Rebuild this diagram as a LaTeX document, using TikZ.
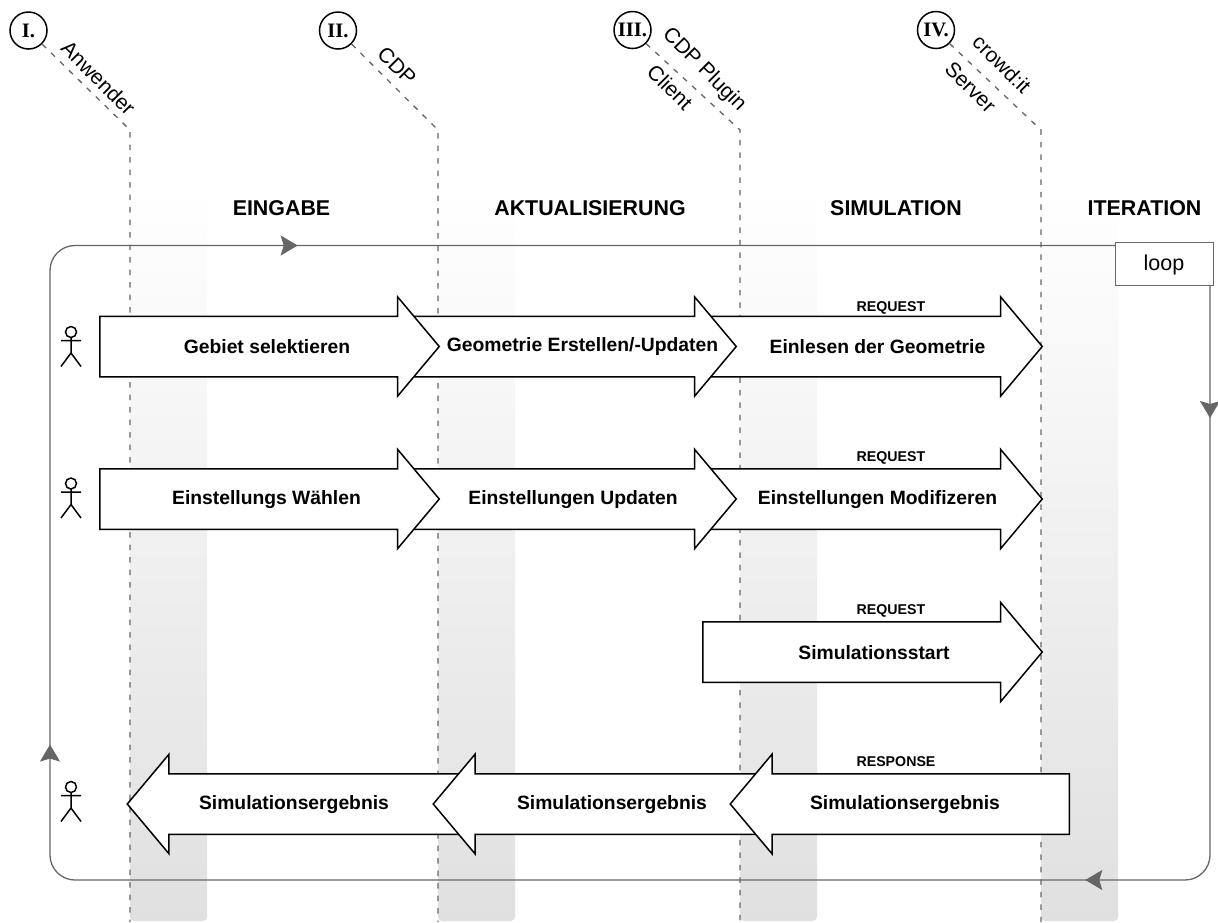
\documentclass[tikz,border=0pt]{standalone}
\usepackage{fontspec}
\setmainfont{Liberation Sans}
\newfontfamily\numfont{Liberation Serif}
\usepackage{tikz}
\usetikzlibrary{shapes.arrows}
\usetikzlibrary{arrows.meta}
\usetikzlibrary{decorations.markings}
\definecolor{loopgray}{HTML}{666666}
\definecolor{bandgray}{HTML}{E0E0E0}

\begin{document}
\begin{tikzpicture}[x=1pt,y=-1pt]
% Diagram style
\tikzset{
    band/.style={top color=white,bottom color=bandgray,draw=none,rounded corners=4pt},
    lifeline/.style={dashed,dash pattern=on 5.5pt off 7pt,draw=loopgray,line width=1.3pt},
    loopline/.style={draw=loopgray,line width=1.3pt,rounded corners=25pt},
    flow/.style={shape=single arrow,draw=black,fill=white,line width=1.5pt,inner xsep=0pt,inner ysep=29.5pt,
        minimum width=98pt,single arrow head extend=19.5pt,single arrow tip angle=100},
    rflow/.style={flow,anchor=tail},
    lflow/.style={flow,anchor=tail,shape border rotate=180},
    flowtext/.style={font=\fontsize{19.3}{22}\selectfont\bfseries},
    msgtext/.style={font=\fontsize{14.2}{16}\selectfont\bfseries,anchor=west},
    headtext/.style={font=\fontsize{21.4}{24}\selectfont\bfseries},
    roletext/.style={font=\fontsize{21}{24}\selectfont,rotate=-45},
    partno/.style={circle,draw=black,line width=1.5pt,minimum size=37pt,inner sep=0pt,
        font=\fontsize{20.5}{22}\selectfont\numfont\bfseries},
    actor/.pic={
        \draw[line width=1.5pt] (0,0) circle (5.5pt);
        \draw[line width=1.5pt] (0,5.5) -- (0,21) (-10,8.5) -- (10,8.5) (-10,34.5) -- (0,21) -- (10,34.5);
    },
    looptip/.style={decorate,decoration={markings,
        mark=at position 133pt with {\arrow{Stealth[length=17pt,width=20pt,inset=3pt]}},
        mark=at position 709pt with {\arrow{Stealth[length=17pt,width=20pt,inset=3pt]}},
        mark=at position 1869pt with {\arrow{Stealth[length=17pt,width=20pt,inset=3pt]}},
        mark=at position 2605pt with {\arrow{Stealth[length=17pt,width=20pt,inset=3pt]}}}}
}
\useasboundingbox (0,0) rectangle (1218,922);
% Bands
\shade[band] (130,190) rectangle (207,921);
\shade[band] (438,190) rectangle (515,921);
\shade[band] (740,190) rectangle (817,921);
\shade[band] (1041,190) rectangle (1118,921);
% Participants
\draw (28.5,30.5) node[partno] (Parta){I.};
\draw (338,30.5) node[partno] (Partb){II.};
\draw (632.5,30) node[partno] (Partc){III.};
\draw (936,30) node[partno] (Partd){IV.};
\draw (98.5,78) node[roletext] (Rolea){Anwender};
\draw (397,66) node[roletext] (Roleb){CDP};
\draw (704,70) node[roletext] (Rolec){CDP Plugin};
\draw (670,87) node[roletext] (Rolecc){Client};
\draw (1002,64) node[roletext] (Roled){crowd:it};
\draw (970.5,87) node[roletext] (Roledd){Server};
% Lifelines
\draw[lifeline] (Parta.south east) -- (130,130) -- (130,922);
\draw[lifeline] (Partb.south east) -- (438,130) -- (438,922);
\draw[lifeline] (Partc.south east) -- (740,130) -- (740,922);
\draw[lifeline] (Partd.south east) -- (1041,130) -- (1041,922);
% Phases
\draw (281.5,208) node[headtext] (Phasea){EINGABE};
\draw (590,208) node[headtext] (Phaseb){AKTUALISIERUNG};
\draw (896,208) node[headtext] (Phasec){SIMULATION};
\draw (1144.5,208) node[headtext] (Phased){ITERATION};
% Loop
\coordinate (Loopout) at (1210,285);
\coordinate (Loopin) at (1115,245.5);
\draw[loopline,postaction={looptip}]
    (Loopout) -- (1210,880) -- (50,880) -- (50,245.5) -- (Loopin);
\draw (1164,263.5) node[draw=loopgray,fill=white,line width=1pt,minimum width=98pt,minimum height=43pt,
    inner sep=0pt,font=\fontsize{21.5}{24}\selectfont,text height=14pt,text depth=1pt] (Loopbox){loop};
% Actors
\pic at (71,332) {actor};
\pic at (71,483.5) {actor};
\pic at (71,787) {actor};
% Select area row
\draw (702,346.5) node[rflow,minimum height=339.5pt] (Reada){};
\draw (396,346.5) node[rflow,minimum height=339.5pt] (Reqa){};
\draw (99,346.5) node[rflow,minimum height=339.5pt] (Usera){};
\draw (267,347) node[flowtext] (Texta){Gebiet selektieren};
\draw (582.5,347) node[flowtext] (Textb){Geometrie Erstellen/-Updaten};
\draw (877.5,347) node[flowtext] (Textc){Einlesen der Geometrie};
\draw (853,307.5) node[msgtext] (Msga){REQUEST};
% Settings row
\draw (702,499) node[rflow,minimum height=339.5pt] (Readb){};
\draw (396,499) node[rflow,minimum height=339.5pt] (Reqb){};
\draw (99,499) node[rflow,minimum height=339.5pt] (Userb){};
\draw (266.5,499.5) node[flowtext] (Textd){Einstellungs Wählen};
\draw (573,499.5) node[flowtext] (Texte){Einstellungen Updaten};
\draw (877.5,499.5) node[flowtext] (Textf){Einstellungen Modifizeren};
\draw (853,457.5) node[msgtext] (Msgb){REQUEST};
% Start row
\draw (702,652) node[rflow,minimum height=339.5pt] (Readc){};
\draw (874,653) node[flowtext] (Textg){Simulationsstart};
\draw (853,610.5) node[msgtext] (Msgc){REQUEST};
% Result row
\draw (468,804) node[lflow,minimum height=340pt] (Resa){};
\draw (774,804) node[lflow,minimum height=340pt] (Resb){};
\draw (1070,804) node[lflow,minimum height=339pt] (Resc){};
\draw (294,805) node[flowtext] (Texth){Simulationsergebnis};
\draw (612,805) node[flowtext] (Texti){Simulationsergebnis};
\draw (905,805) node[flowtext] (Textj){Simulationsergebnis};
\draw (853,762) node[msgtext] (Msgd){RESPONSE};
\end{tikzpicture}
\end{document}
